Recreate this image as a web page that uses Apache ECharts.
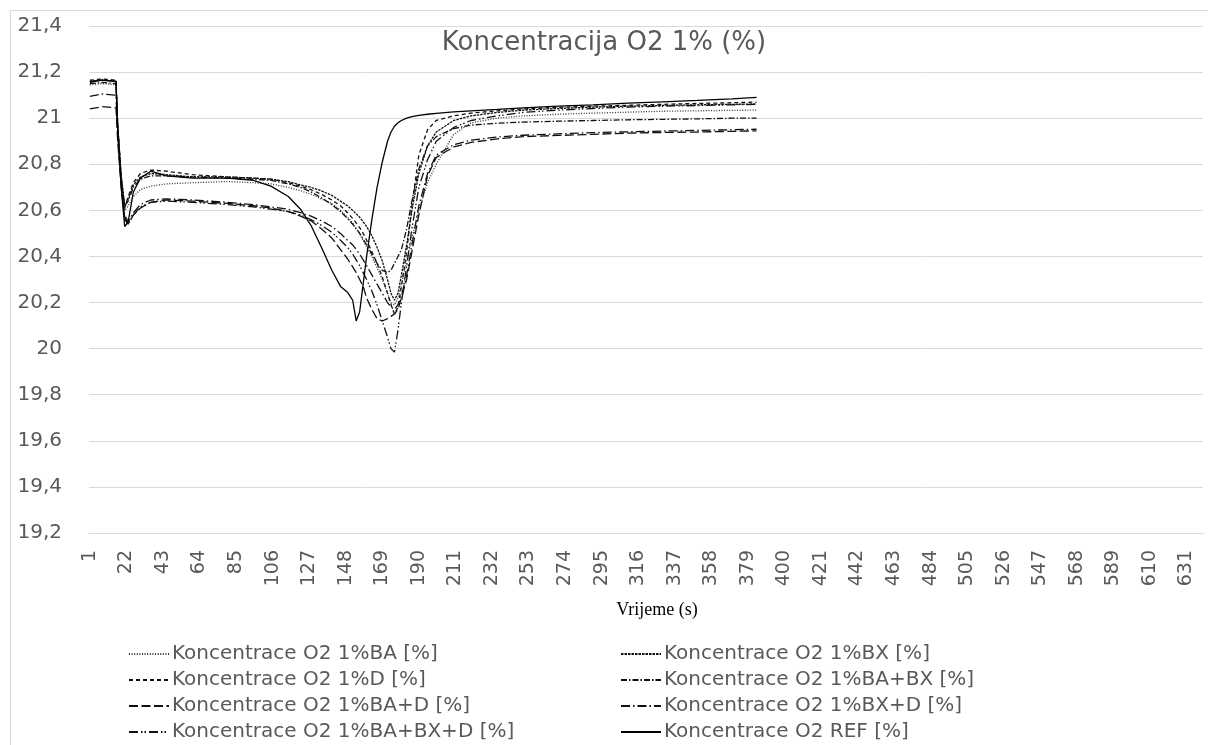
<!DOCTYPE html>
<html>
<head>
<meta charset="utf-8">
<script src="https://cdn.jsdelivr.net/npm/echarts@6/dist/echarts.min.js"></script>
<style>
html,body{margin:0;padding:0;background:#fff;}
#chart{width:1208px;height:745px;}
</style>
</head>
<body>
<div id="chart"></div>
<script>
const seconds = [1, 8, 16, 17, 19, 21, 23, 26, 30, 36,
  45, 60, 80, 95, 105, 115, 122, 128, 134, 140,
  145, 149, 152, 154, 156, 158, 160, 163, 166, 169,
  172, 174, 176, 178, 180, 183, 186, 190, 195, 200,
  210, 220, 235, 250, 270, 290, 310, 330, 350, 370,
  384];

const seriesNames = [
  'Koncentrace O2 1%BA [%]', 'Koncentrace O2 1%BX [%]',
  'Koncentrace O2 1%D [%]', 'Koncentrace O2 1%BA+BX [%]',
  'Koncentrace O2 1%BA+D [%]', 'Koncentrace O2 1%BX+D [%]',
  'Koncentrace O2 1%BA+BX+D [%]', 'Koncentrace O2 REF [%]'
];

const valBA = [21.145, 21.15, 21.145, 20.97, 20.75, 20.60, 20.62, 20.66, 20.69, 20.705,
  20.715, 20.72, 20.725, 20.72, 20.715, 20.70, 20.685, 20.67, 20.65, 20.63,
  20.60, 20.57, 20.545, 20.52, 20.50, 20.47, 20.44, 20.40, 20.35, 20.30,
  20.24, 20.20, 20.19, 20.22, 20.28, 20.38, 20.48, 20.60, 20.72, 20.80,
  20.93, 20.98, 21.00, 21.01, 21.017, 21.022, 21.026, 21.03, 21.032, 21.034,
  21.035];

const valBX = [21.16, 21.165, 21.16, 20.97, 20.75, 20.62, 20.65, 20.71, 20.745, 20.76,
  20.755, 20.745, 20.745, 20.74, 20.735, 20.725, 20.71, 20.70, 20.685, 20.665,
  20.64, 20.62, 20.60, 20.585, 20.57, 20.55, 20.53, 20.49, 20.44, 20.38,
  20.30, 20.24, 20.21, 20.24, 20.32, 20.45, 20.60, 20.76, 20.88, 20.94,
  20.99, 21.01, 21.025, 21.035, 21.042, 21.048, 21.052, 21.055, 21.058, 21.06,
  21.062];

const valD = [21.165, 21.17, 21.165, 20.97, 20.74, 20.61, 20.66, 20.72, 20.76, 20.775,
  20.77, 20.755, 20.745, 20.74, 20.735, 20.72, 20.705, 20.69, 20.67, 20.645,
  20.62, 20.59, 20.565, 20.545, 20.525, 20.50, 20.47, 20.42, 20.37, 20.31,
  20.24, 20.19, 20.15, 20.18, 20.27, 20.42, 20.62, 20.84, 20.95, 20.99,
  21.01, 21.022, 21.032, 21.04, 21.047, 21.052, 21.056, 21.06, 21.064, 21.067,
  21.07];

const valBABX = [21.15, 21.155, 21.15, 20.96, 20.74, 20.62, 20.64, 20.70, 20.735, 20.75,
  20.75, 20.745, 20.74, 20.735, 20.73, 20.715, 20.70, 20.68, 20.655, 20.625,
  20.595, 20.565, 20.54, 20.52, 20.50, 20.475, 20.45, 20.41, 20.37, 20.34,
  20.33, 20.34, 20.37, 20.40, 20.43, 20.52, 20.64, 20.78, 20.88, 20.92,
  20.955, 20.97, 20.978, 20.983, 20.987, 20.99, 20.993, 20.995, 20.997, 21.0,
  21.0];

const valBAD = [21.04, 21.05, 21.045, 20.90, 20.70, 20.56, 20.54, 20.58, 20.61, 20.635,
  20.645, 20.64, 20.63, 20.62, 20.61, 20.595, 20.575, 20.555, 20.52, 20.48,
  20.43, 20.39, 20.355, 20.33, 20.30, 20.27, 20.22, 20.17, 20.13, 20.12,
  20.13, 20.14, 20.15, 20.17, 20.22, 20.30, 20.42, 20.58, 20.75, 20.83,
  20.875, 20.895, 20.91, 20.92, 20.925, 20.93, 20.935, 20.938, 20.94, 20.943,
  20.945];

const valBXD = [21.095, 21.105, 21.10, 20.93, 20.72, 20.58, 20.55, 20.59, 20.625, 20.645,
  20.65, 20.645, 20.635, 20.625, 20.615, 20.605, 20.59, 20.575, 20.555, 20.53,
  20.50, 20.47, 20.45, 20.43, 20.41, 20.385, 20.36, 20.32, 20.28, 20.24,
  20.20, 20.18, 20.17, 20.19, 20.23, 20.32, 20.45, 20.62, 20.76, 20.84,
  20.885, 20.905, 20.918, 20.926, 20.932, 20.937, 20.941, 20.944, 20.947, 20.95,
  20.952];

const valBABXD = [21.16, 21.165, 21.16, 20.95, 20.72, 20.57, 20.54, 20.58, 20.615, 20.635,
  20.64, 20.635, 20.625, 20.615, 20.605, 20.595, 20.58, 20.56, 20.535, 20.505,
  20.47, 20.44, 20.41, 20.385, 20.36, 20.33, 20.30, 20.25, 20.19, 20.12,
  20.05, 20.00, 19.985, 20.08, 20.20, 20.36, 20.52, 20.70, 20.82, 20.90,
  20.96, 20.99, 21.01, 21.025, 21.035, 21.042, 21.048, 21.052, 21.055, 21.058,
  21.06];

const valREF = [21.155, 21.165, 21.16, 20.95, 20.70, 20.53, 20.55, 20.68, 20.74, 20.77,
  20.75, 20.74, 20.74, 20.73, 20.705, 20.66, 20.605, 20.535, 20.44, 20.34,
  20.27, 20.245, 20.21, 20.12, 20.16, 20.28, 20.40, 20.56, 20.70, 20.81,
  20.90, 20.94, 20.965, 20.98, 20.99, 21.0, 21.007, 21.012, 21.017, 21.021,
  21.027, 21.032, 21.038, 21.045, 21.052, 21.058, 21.065, 21.071, 21.077, 21.084,
  21.09];

const categoryCount = 640;
const categories = [];
for (let i = 1; i <= categoryCount; i++) categories.push(String(i));

const yMin = 19.2, yMax = 21.4, yStep = 0.2;

const seriesValues = [valBA, valBX, valD, valBABX, valBAD, valBXD, valBABXD, valREF];
const dashTypes = [[1, 1.6], [2.5, 1], [4, 3], [6, 2, 1.5, 2], [9, 3.5], [9, 3, 1.5, 3], [9, 3, 1.5, 2, 1.5, 3], 'solid'];
const lineColors = ['#333', '#111', '#111', '#111', '#111', '#111', '#111', '#000'];

const chart = echarts.init(document.getElementById('chart'), null, {renderer: 'canvas'});

const series = seriesNames.map((name, k) => ({
  name: name,
  type: 'line',
  showSymbol: false,
  symbol: 'none',
  smooth: false,
  animation: false,
  lineStyle: {color: lineColors[k], width: 1.3, type: dashTypes[k]},
  itemStyle: {color: lineColors[k]},
  data: seconds.map((s, i) => [s - 1, seriesValues[k][i]])
}));

const fontSans = '"DejaVu Sans", "Open Sans", sans-serif';

// legend placement: two columns, four rows
const legendCols = [128, 620];
const legendRows = [644, 670, 696, 722];
const legends = seriesNames.map((name, k) => ({
  orient: 'horizontal',
  left: legendCols[k % 2],
  top: legendRows[Math.floor(k / 2)],
  itemWidth: 40,
  itemHeight: 12,
  itemGap: 0,
  padding: 0,
  itemStyle: {opacity: 0},
  data: [name],
  textStyle: {color: '#595959', fontSize: 20, fontFamily: fontSans, padding: [0, 0, 0, -2]}
}));

chart.setOption({
  animation: false,
  backgroundColor: '#fff',
  title: {
    text: 'Koncentracija O2 1% (%)',
    left: 'center',
    top: 25,
    textStyle: {color: '#595959', fontSize: 26, fontWeight: 'normal', fontFamily: fontSans}
  },
  graphic: [{
    type: 'rect',
    shape: {x: 10.5, y: 10.5, width: 1220, height: 760},
    style: {fill: 'none', stroke: '#d9d9d9', lineWidth: 1},
    silent: true
  }],
  legend: legends,
  grid: {left: 89, right: 5, top: 26, bottom: 212, containLabel: false},
  xAxis: {
    type: 'category',
    data: categories,
    boundaryGap: true,
    name: 'Vrijeme (s)',
    nameLocation: 'middle',
    nameGap: 68,
    nameTextStyle: {color: '#000', fontSize: 18, fontFamily: '"Liberation Serif", serif', padding: [0, 0, 0, 22]},
    axisLine: {show: true, lineStyle: {color: '#d9d9d9', width: 1}},
    axisTick: {show: false},
    axisLabel: {
      interval: 20,
      rotate: 90,
      margin: 17,
      color: '#595959',
      fontSize: 19,
      fontFamily: fontSans
    },
    splitLine: {show: false}
  },
  yAxis: {
    type: 'value',
    min: yMin,
    max: yMax,
    interval: yStep,
    axisLine: {show: false},
    axisTick: {show: false},
    axisLabel: {
      margin: 27,
      color: '#595959',
      fontSize: 20,
      fontFamily: fontSans,
      formatter: v => String(Number(v.toFixed(1))).replace('.', ',')
    },
    splitLine: {show: true, lineStyle: {color: '#d9d9d9', width: 1}}
  },
  series: series
});
</script>
</body>
</html>
